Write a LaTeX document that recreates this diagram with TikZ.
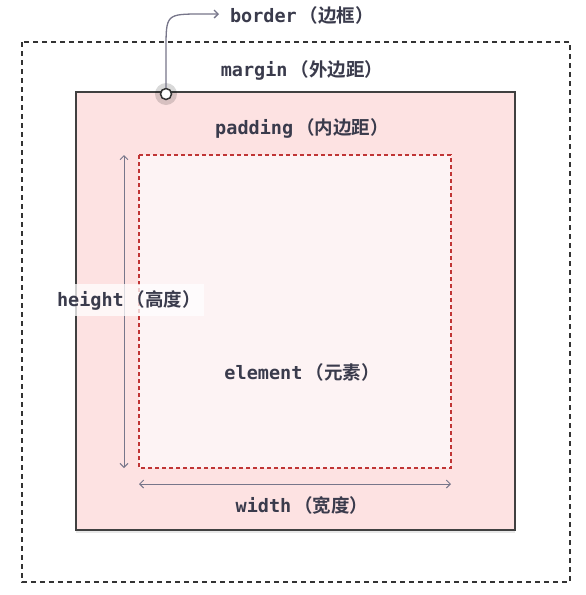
\documentclass[tikz,border=0pt]{standalone}
\usepackage{fontspec}
\setmonofont{DejaVu Sans Mono}
\newfontfamily\cjk{Noto Sans CJK SC}[BoldFont={* Bold}]
\usetikzlibrary{arrows.meta,shadows}
\definecolor{txt}{HTML}{3A3B4C}
\definecolor{arr}{HTML}{77768A}
\definecolor{padfill}{HTML}{FDE2E2}
\definecolor{elfill}{HTML}{FDF3F4}
\definecolor{redd}{HTML}{C03535}
\newcommand{\lbl}[2]{\ttfamily\bfseries #1\,{\cjk\bfseries （#2）}}
\tikzset{
  lab/.style={text=txt,font=\fontsize{18.5}{22}\selectfont,inner sep=1pt},
  dim/.style={draw=arr,line width=1pt,{Straight Barb[length=4pt,width=8pt]}-{Straight Barb[length=4pt,width=8pt]}}
}
\begin{document}
\begin{tikzpicture}[x=1pt,y=-1pt]
\useasboundingbox (0,0) rectangle (586,595);
\fill[white] (0,0) rectangle (586,595);
% margin box
\draw[line width=1.5pt,draw=black!80,dash pattern=on 5pt off 4pt] (22,42) rectangle (570,582);
% border box
\draw[line width=2pt,draw=black!75,fill=padfill,drop shadow={shadow xshift=0pt,shadow yshift=-3pt,opacity=0.18}] (76,92) rectangle (515,530);
% element
\fill[elfill] (139,155) rectangle (451,468);
\draw[line width=1.5pt,draw=redd,dash pattern=on 4pt off 3pt] (139,155) rectangle (451,468);
% dimensions
\coordinate (ht) at (124,155);
\coordinate (hb) at (124,468);
\coordinate (wl) at (139,484);
\coordinate (wr) at (451,484);
\draw[dim] (ht) -- (hb);
\draw[dim] (wl) -- (wr);
% labels
\node[lab] (border) at (302,15) {\lbl{border}{边框}};
\node[lab] (margin) at (302,70) {\lbl{margin}{外边距}};
\node[lab] (padding) at (302,128) {\lbl{padding}{内边距}};
\node[lab,fill=white,fill opacity=0.75,text opacity=1,inner xsep=3pt,inner ysep=6pt] (height) at (129,300) {\lbl{height}{高度}};
\node[lab] (element) at (302,372) {\lbl{element}{元素}};
\node[lab] (width) at (302,505) {\lbl{width}{宽度}};
% border marker
\fill[black,opacity=0.15] (166,94) circle (11);
\node[circle,draw=black!80,line width=1.5pt,fill=white,minimum size=11pt,inner sep=0pt] (dot) at (166,94) {};
\coordinate (tip) at (219,14);
\draw[draw=arr,line width=1.3pt,-{Straight Barb[length=4pt,width=8pt]}] (dot.north) -- (166,50) .. controls (166,14) .. (202,14) -- (tip);
\end{tikzpicture}
\end{document}
